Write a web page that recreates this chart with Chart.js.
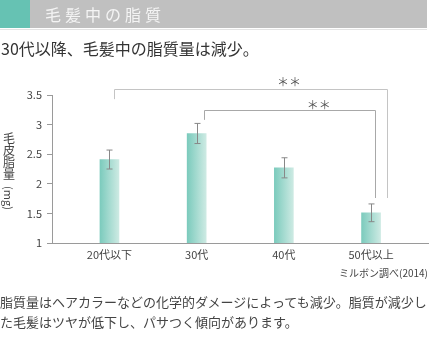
<!DOCTYPE html>
<html lang="ja">
<head>
<meta charset="utf-8">
<script src="https://cdn.jsdelivr.net/npm/chart.js@4.4.1/dist/chart.umd.min.js"></script>
<style>
  html, body { margin: 0; padding: 0; background: #fff; }
  body { width: 444px; height: 350px; position: relative; overflow: hidden;
         font-family: "Noto Sans CJK JP", "Noto Sans", sans-serif; color: #333; }
  #chart { position: absolute; left: 0; top: 0; }
  .head { position: absolute; left: 0; top: 0; width: 427px; height: 28px; background: #c0c0c0; }
  .head .mark { position: absolute; left: 0; top: 0; width: 30px; height: 28px; background: #66c2b3; }
  .head .title { position: absolute; left: 45px; top: 3px; font-size: 16px; line-height: 22px;
                 color: #f4f4f4; letter-spacing: 4px; }
  .rule { position: absolute; left: 0; top: 29px; width: 427px; height: 1px; background: #e4e4e4; }
  .lead { position: absolute; left: 1px; top: 38px; font-size: 16px; line-height: 20px; color: #333; white-space: nowrap; }
  .ytitle { position: absolute; left: 3px; top: 132px; width: 12px; font-size: 12px; color: #444; text-align: center; }
  .ytitle div { line-height: 12px; }
  .ytitle .unit { position: absolute; left: -10px; top: 60px; width: 32px; line-height: 12px;
                  transform: rotate(90deg); transform-origin: 50% 50%; font-size: 11px; }
  .source { position: absolute; right: 16px; top: 265px; font-size: 10px; color: #444; white-space: nowrap; }
  .note { position: absolute; left: 0; top: 292px; font-size: 13px; line-height: 20px; color: #444; white-space: nowrap; }
</style>
</head>
<body>
<canvas id="chart" width="444" height="350"></canvas>
<div class="head"><div class="mark"></div><div class="title">毛髪中の脂質</div></div>
<div class="rule"></div>
<div class="lead">30代以降、毛髪中の脂質量は減少。</div>
<div class="ytitle"><div>毛</div><div>皮</div><div>脂</div><div>量</div><div class="unit">(mg)</div></div>
<div class="source">ミルボン調べ(2014)</div>
<div class="note">脂質量はヘアカラーなどの化学的ダメージによっても減少。脂質が減少し<br>た毛髪はツヤが低下し、パサつく傾向があります。</div>

<script>
const categories = ['20代以下', '30代', '40代', '50代以上'];
const sebum = [2.41, 2.85, 2.27, 1.51];
const sebumErr = [0.16, 0.17, 0.17, 0.15];
const yTicks = [1, 1.5, 2, 2.5, 3, 3.5];

const BAR_W = 19;

// light teal gradient across each bar
function barFill(context) {
  const chart = context.chart;
  if (!chart.chartArea) return '#8fd2c6';
  const cx = chart.scales.x.getPixelForValue(context.dataIndex);
  const g = chart.ctx.createLinearGradient(cx - BAR_W / 2, 0, cx + BAR_W / 2, 0);
  g.addColorStop(0, '#7ccbbd');
  g.addColorStop(1, '#cdeae3');
  return g;
}

// error bars with small caps
const errorBars = {
  id: 'errorBars',
  afterDatasetsDraw(chart) {
    const { ctx, scales: { x, y } } = chart;
    ctx.save();
    ctx.strokeStyle = '#888';
    ctx.lineWidth = 1;
    sebum.forEach((v, i) => {
      const px = Math.round(x.getPixelForValue(i)) + 0.5;
      const top = y.getPixelForValue(v + sebumErr[i]);
      const bot = y.getPixelForValue(v - sebumErr[i]);
      ctx.beginPath();
      ctx.moveTo(px, top); ctx.lineTo(px, bot);
      ctx.moveTo(px - 3, top); ctx.lineTo(px + 3, top);
      ctx.moveTo(px - 3, bot); ctx.lineTo(px + 3, bot);
      ctx.stroke();
    });
    ctx.restore();
  }
};

// significance brackets: [x1, x2, yTop, yLeftEnd, yRightEnd, starX, starY, colour] in scale units
const brackets = [
  [0.05, 3.18, 3.60, 3.43, 1.76, 2.06, 3.72, '#c4c4c4'],
  [1.08, 3.04, 3.24, 3.08, 1.76, 2.40, 3.33, '#a8a8a8']
];
const sigBrackets = {
  id: 'sigBrackets',
  afterDraw(chart) {
    const { ctx, scales: { x, y } } = chart;
    ctx.save();
    ctx.lineWidth = 1;
    brackets.forEach(b => {
      const x1 = Math.round(x.getPixelForValue(b[0])) + 0.5;
      const x2 = Math.round(x.getPixelForValue(b[1])) + 0.5;
      const yt = Math.round(y.getPixelForValue(b[2])) + 0.5;
      ctx.strokeStyle = b[7];
      ctx.beginPath();
      ctx.moveTo(x1, y.getPixelForValue(b[3]));
      ctx.lineTo(x1, yt);
      ctx.lineTo(x2, yt);
      ctx.lineTo(x2, y.getPixelForValue(b[4]));
      ctx.stroke();
      ctx.fillStyle = '#555';
      ctx.font = '12px "Noto Sans CJK JP"';
      ctx.textAlign = 'center';
      ctx.textBaseline = 'middle';
      ctx.fillText('＊＊', x.getPixelForValue(b[5]), y.getPixelForValue(b[6]));
    });
    ctx.restore();
  }
};

new Chart(document.getElementById('chart'), {
  type: 'bar',
  data: {
    datasets: [{
      data: sebum.map((v, i) => ({ x: i, y: v })),
      backgroundColor: barFill,
      barThickness: BAR_W,
      borderWidth: 0
    }]
  },
  options: {
    responsive: false,
    animation: false,
    events: [],
    layout: { padding: { left: 0, right: 16, top: 95, bottom: 67 } },
    plugins: { legend: { display: false }, tooltip: { enabled: false } },
    scales: {
      x: {
        type: 'linear',
        offset: false,
        min: -0.659,
        max: 3.653,
        grid: { display: false, offset: false },
        border: { display: true, color: '#9a9a9a' },
        afterFit: s => { s.height = 40; },
        afterBuildTicks: s => { s.ticks = categories.map((c, i) => ({ value: i })); },
        ticks: {
          padding: -3,
          color: '#444',
          font: { family: '"Noto Sans CJK JP"', size: 11 },
          maxRotation: 0,
          autoSkip: false,
          callback: v => categories[v]
        }
      },
      y: {
        min: 1,
        max: 3.5,
        afterFit: s => { s.width = 52; },
        afterBuildTicks: s => { s.ticks = yTicks.map(v => ({ value: v })); },
        grid: { drawOnChartArea: false, tickLength: 5, color: '#9a9a9a' },
        border: { display: true, color: '#9a9a9a' },
        ticks: {
          padding: 5,
          color: '#444',
          font: { family: '"Noto Sans CJK JP"', size: 11 },
          callback: v => String(v)
        }
      }
    }
  },
  plugins: [errorBars, sigBrackets]
});
</script>
</body>
</html>
